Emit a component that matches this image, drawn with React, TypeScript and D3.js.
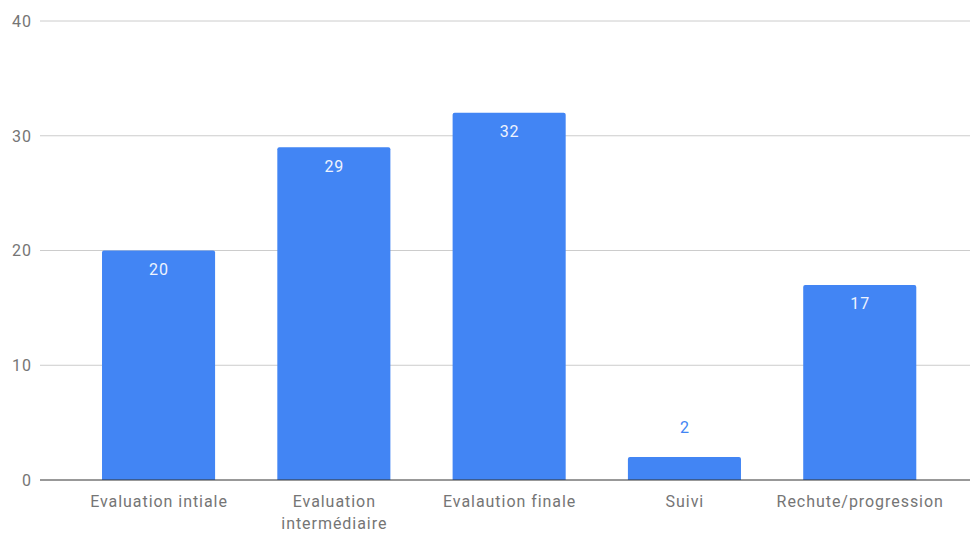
import React from "react";
import * as d3 from "d3";

const categories = [
  ["Evaluation intiale"],
  ["Evaluation", "intermédiaire"],
  ["Evalaution finale"],
  ["Suivi"],
  ["Rechute/progression"],
];
const values = [20, 29, 32, 2, 17];
const yTicks = [0, 10, 20, 30, 40];

const W = 970;
const H = 533;
const BAR = "#4285F4";
const TEXT = "#757575";
const FONT = "Roboto, 'Noto Sans', sans-serif";
const FS = 16;
const LS = 0.95;

export default function App() {
  const keys = categories.map((c) => c.join(" "));
  const x = d3
    .scaleBand<string>()
    .domain(keys)
    .range([70.9, 947.4])
    .paddingInner(0.355)
    .paddingOuter(0.1775);
  const y = d3.scaleLinear().domain([0, 40]).range([480, 21]);
  const r = 2;

  const barPath = (x0: number, x1: number, top: number, base: number) => {
    const p = d3.path();
    p.moveTo(x0, base);
    p.lineTo(x0, top + r);
    p.quadraticCurveTo(x0, top, x0 + r, top);
    p.lineTo(x1 - r, top);
    p.quadraticCurveTo(x1, top, x1, top + r);
    p.lineTo(x1, base);
    p.closePath();
    return p.toString();
  };

  return (
    <svg
      width={W}
      height={H}
      style={{ position: "absolute", left: 0, top: 0, background: "#fff" }}
      fontFamily={FONT}
      letterSpacing={LS}
    >
      {yTicks.map((t) => (
        <g key={t}>
          {t !== 0 && (
            <line x1={40} x2={W} y1={y(t)} y2={y(t)} stroke="#cccccc" strokeWidth={1} />
          )}
          <text
            x={31 + LS}
            y={y(t)}
            dy="0.36em"
            textAnchor="end"
            fontSize={FS}
            fill={TEXT}
          >
            {t}
          </text>
        </g>
      ))}
      {values.map((v, i) => {
        const k = keys[i];
        const x0 = x(k)!;
        const x1 = x0 + x.bandwidth();
        const top = y(v);
        const inside = y(0) - top > 35;
        return (
          <g key={k}>
            <path d={barPath(x0, x1, top, y(0))} fill={BAR} />
            <text
              x={(x0 + x1) / 2 + LS / 2}
              y={inside ? top + 24.5 : top - 24}
              textAnchor="middle"
              fontSize={FS}
              fill={inside ? "#eef3fe" : BAR}
            >
              {v}
            </text>
          </g>
        );
      })}
      <line x1={40} x2={W} y1={y(0)} y2={y(0)} stroke="#333333" strokeWidth={1} />
      {categories.map((lines, i) => {
        const cx = x(keys[i])! + x.bandwidth() / 2 + LS / 2;
        return (
          <text key={i} textAnchor="middle" fontSize={FS} fill={TEXT}>
            {lines.map((ln, j) => (
              <tspan key={j} x={cx} y={507 + j * 22}>
                {ln}
              </tspan>
            ))}
          </text>
        );
      })}
    </svg>
  );
}
